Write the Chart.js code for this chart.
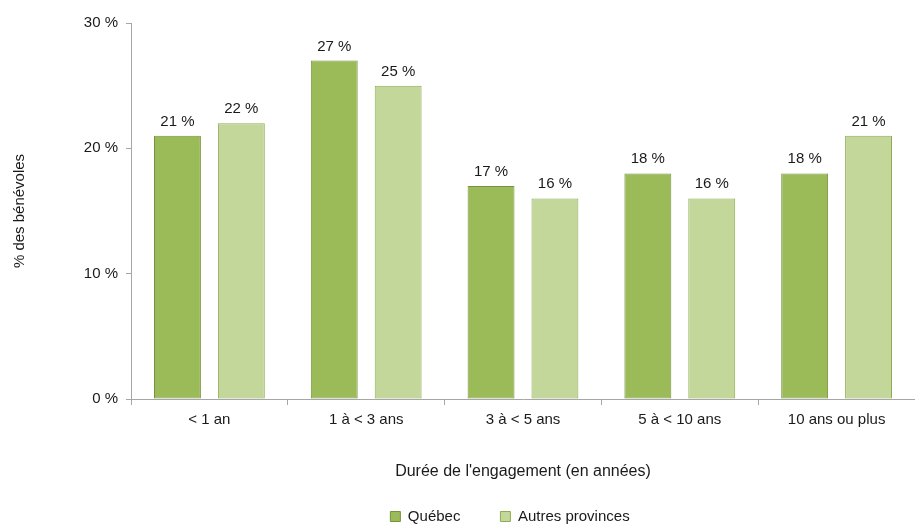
<!DOCTYPE html>
<html>
<head>
<meta charset="utf-8">
<script src="https://cdn.jsdelivr.net/npm/chart.js@4.4.1/dist/chart.umd.min.js"></script>
<style>
  html, body { margin: 0; padding: 0; background: #ffffff; }
  #wrap { width: 915px; height: 525px; position: relative; }
</style>
</head>
<body>
<div id="wrap"><canvas id="c" width="915" height="525"></canvas></div>
<script>
const categories = ['< 1 an', '1 à < 3 ans', '3 à < 5 ans', '5 à < 10 ans', '10 ans ou plus'];
const quebec = [21, 27, 17, 18, 18];
const autresProvinces = [22, 25, 16, 16, 21];
const yTicks = [0, 10, 20, 30];

const FONT = "'Liberation Sans', Arial, sans-serif";

// Writes each bar's value above it
const valueLabels = {
  id: 'valueLabels',
  afterDatasetsDraw(chart) {
    const ctx = chart.ctx;
    ctx.save();
    ctx.font = '15px ' + FONT;
    ctx.fillStyle = '#1a1a1a';
    ctx.textAlign = 'center';
    ctx.textBaseline = 'alphabetic';
    chart.data.datasets.forEach((ds, i) => {
      chart.getDatasetMeta(i).data.forEach((bar, j) => {
        ctx.fillText(ds.data[j] + ' %', bar.x, bar.y - 10);
      });
    });
    ctx.restore();
  }
};

// Centres the legend under the plotting area rather than the whole canvas
const legendUnderPlot = {
  id: 'legendUnderPlot',
  afterLayout(chart) {
    const lg = chart.legend;
    if (!lg) return;
    lg.left = chart.chartArea.left - 26;
    lg.right = chart.chartArea.right;
  }
};

new Chart(document.getElementById('c'), {
  type: 'bar',
  data: {
    labels: categories,
    datasets: [
      {
        label: 'Québec',
        data: quebec,
        backgroundColor: '#9bbb59',
        borderColor: '#76923c',
        borderWidth: 1,
        borderSkipped: false
      },
      {
        label: 'Autres provinces',
        data: autresProvinces,
        backgroundColor: '#c4d79b',
        borderColor: '#8eac52',
        borderWidth: 1,
        borderSkipped: false
      }
    ]
  },
  options: {
    responsive: false,
    animation: false,
    devicePixelRatio: 1,
    layout: { padding: { top: 23, right: 0, left: 0, bottom: -9 } },
    datasets: {
      bar: { categoryPercentage: 0.815, barPercentage: 0.734 }
    },
    plugins: {
      tooltip: { enabled: false },
      legend: {
        position: 'bottom',
        labels: {
          font: { family: FONT, size: 15 },
          color: '#1a1a1a',
          boxWidth: 10,
          boxHeight: 10,
          padding: 40
        }
      }
    },
    scales: {
      x: {
        grid: {
          display: true,
          drawOnChartArea: false,
          drawTicks: true,
          tickLength: 6,
          color: '#a6a6a6',
          offset: true
        },
        border: { display: true, color: '#a6a6a6', width: 1 },
        ticks: {
          font: { family: FONT, size: 15 },
          color: '#1a1a1a',
          padding: 6
        },
        title: {
          display: true,
          text: "Durée de l'engagement (en années)",
          font: { family: FONT, size: 16 },
          color: '#1a1a1a',
          padding: { top: 0, bottom: -12 }
        },
        afterFit(scale) { scale.height = 70; }
      },
      y: {
        min: 0,
        max: 30,
        afterBuildTicks(scale) { scale.ticks = yTicks.map(v => ({ value: v })); },
        grid: {
          display: true,
          drawOnChartArea: false,
          drawTicks: true,
          tickLength: 5,
          color: '#a6a6a6'
        },
        border: { display: true, color: '#a6a6a6', width: 1 },
        ticks: {
          font: { family: FONT, size: 15 },
          color: '#1a1a1a',
          padding: 8,
          callback: v => v + ' %'
        },
        title: {
          display: true,
          text: '% des bénévoles',
          font: { family: FONT, size: 15 },
          color: '#1a1a1a',
          padding: { top: 11, bottom: 0 }
        },
        afterFit(scale) { scale.width = 131; }
      }
    }
  },
  plugins: [valueLabels, legendUnderPlot]
});
</script>
</body>
</html>
